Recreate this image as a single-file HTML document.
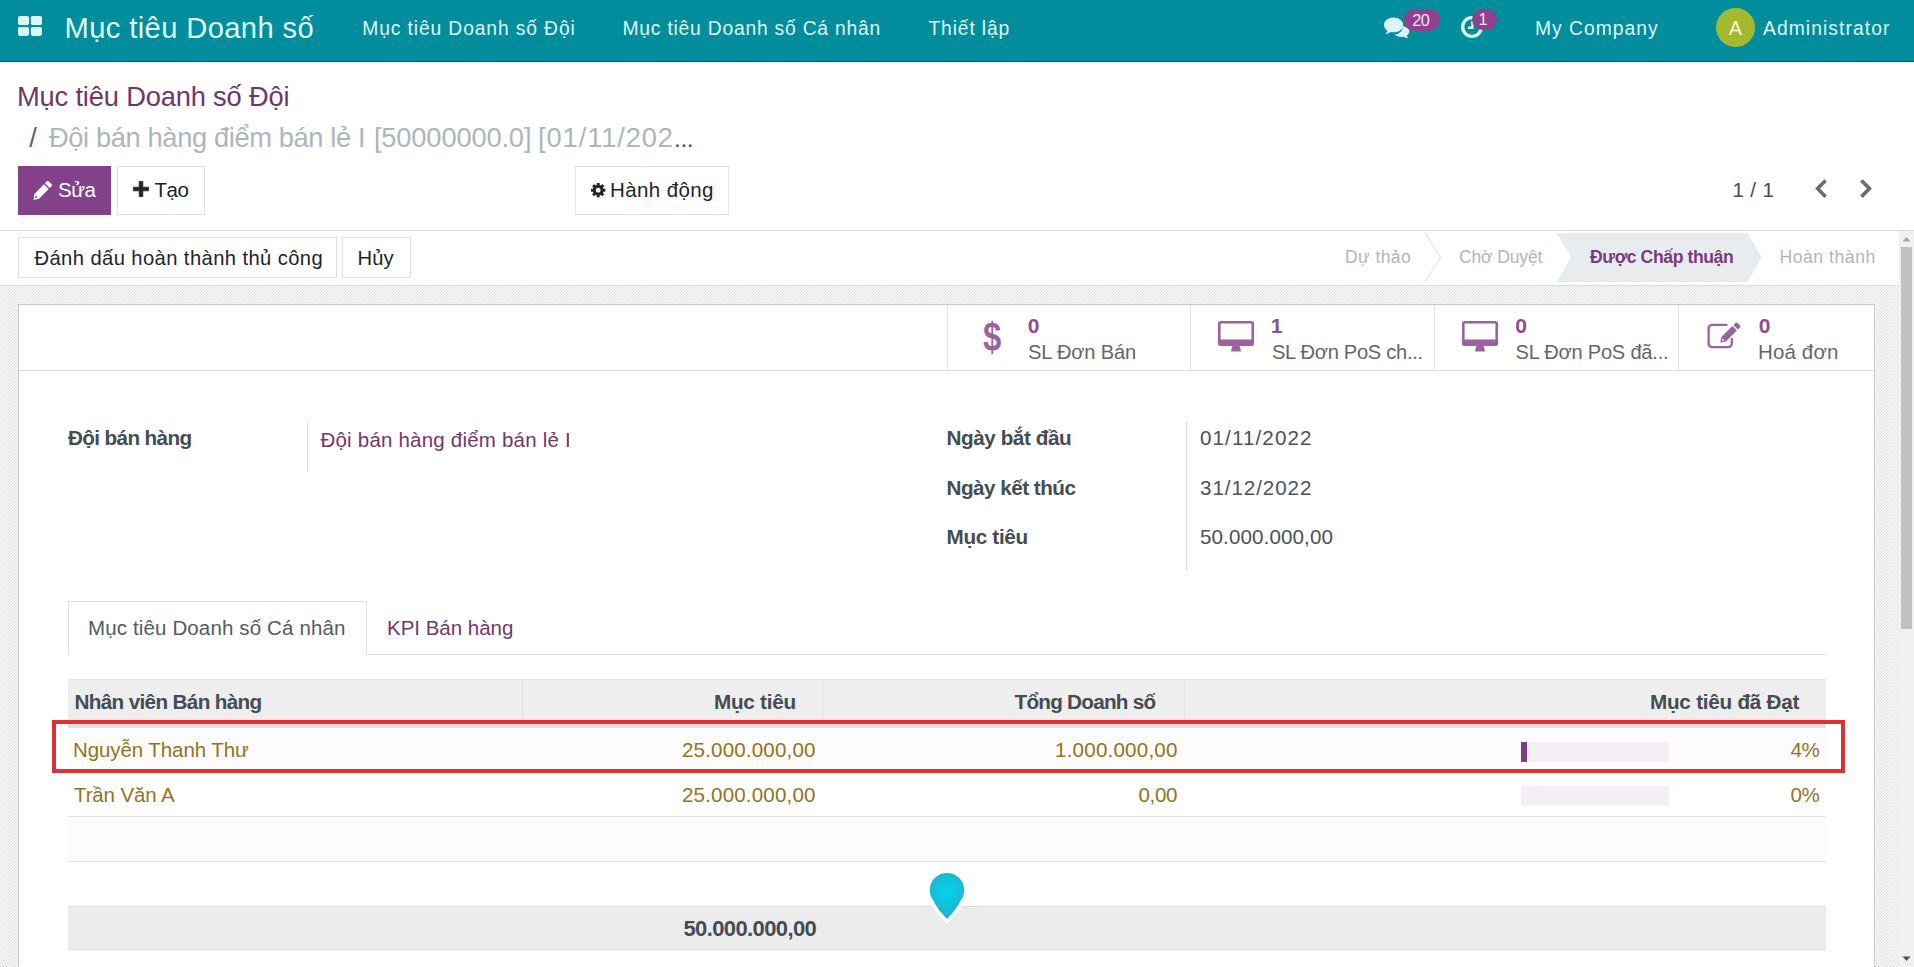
<!DOCTYPE html>
<html lang="vi">
<head>
<meta charset="utf-8">
<title>Mục tiêu Doanh số Đội</title>
<style>
html,body{margin:0;padding:0;}
body{width:1914px;height:967px;overflow:hidden;position:relative;background:#fff;font-family:"Liberation Sans",sans-serif;}
.t{position:absolute;white-space:nowrap;line-height:1;font-family:"Liberation Sans",sans-serif;}
.a{position:absolute;box-sizing:border-box;}
#nav{left:0;top:0;width:1914px;height:62px;background:#028d9d;border-bottom:1px solid #045a6b;}
#cp{left:0;top:62px;width:1914px;height:169px;background:#fff;border-bottom:1px solid #dcdcdc;}
#sb{left:0;top:231px;width:1899px;height:55px;background:#fff;border-bottom:1px solid #dadada;}
#bg{left:0;top:286px;width:1899px;height:681px;background-color:#efefef;}
#sheet{left:18px;top:304px;width:1857px;height:700px;background:#fff;border:1px solid #c9c9d1;}
.btn{background:#fff;border:1px solid #e0e1e3;}
.vl{width:1px;background:#dddddd;}
.hl{height:1px;background:#e0e2e4;}
svg{position:absolute;overflow:visible;}
</style>
</head>
<body>
<!-- NAVBAR -->
<div class="a" id="nav"></div>
<svg style="left:18px;top:16px" width="24" height="20" viewBox="0 0 24 20"><g fill="#dcf6f8"><rect x="0" y="0" width="11" height="9" rx="1.8"/><rect x="12.8" y="0" width="11.2" height="9" rx="1.8"/><rect x="0" y="10.9" width="11" height="9" rx="1.8"/><rect x="12.8" y="10.9" width="11.2" height="9" rx="1.8"/></g></svg>
<!-- comments icon -->
<svg style="left:1384px;top:17px" width="26" height="21" viewBox="0 0 26 21"><g fill="#dcf4f6"><path d="M18.5 9.2 C22.5 9.6 25.4 12 25.4 14.6 C25.4 16.3 24.3 17.8 22.6 18.8 C23 19.8 23.7 20.5 24.4 21 C22.6 21 21 20.5 19.8 19.7 C19 19.9 18.2 20 17.4 20 C14.6 20 12.2 19 10.8 17.5 C15.5 17 19 13.5 18.5 9.2Z"/><path d="M9.6 0.5 C14.9 0.5 19.2 3.8 19.2 7.9 C19.2 12 14.9 15.3 9.6 15.3 C8.6 15.3 7.6 15.2 6.7 14.9 C5.2 16.1 3.3 16.8 1.2 16.9 C2.2 16.1 3.1 15 3.6 13.7 C1.4 12.3 0 10.2 0 7.9 C0 3.8 4.3 0.5 9.6 0.5Z"/></g></svg>
<div class="a" style="left:1403.5px;top:8.8px;width:36px;height:22.1px;border-radius:11px;background:#913f90;"></div>
<!-- clock icon -->
<svg style="left:1460px;top:15.2px" width="24" height="24" viewBox="0 0 24 24"><circle cx="12" cy="12" r="9.35" fill="none" stroke="#dcf6f8" stroke-width="3.4"/><path d="M12.4 6.2 V12.7 H7.8" fill="none" stroke="#dcf6f8" stroke-width="2.4"/></svg>
<div class="a" style="left:1471.8px;top:8.5px;width:24.8px;height:21.6px;border-radius:11px;background:#913f90;"></div>
<!-- avatar -->
<div class="a" style="left:1716px;top:8px;width:39px;height:39px;border-radius:50%;background:#a5b92f;"></div>

<!-- CONTROL PANEL -->
<div class="a" id="cp"></div>
<div class="a" style="left:18px;top:166px;width:93px;height:49px;background:#83418a;"></div>
<svg style="left:33px;top:181px" width="19" height="19" viewBox="0 0 19 19"><path fill="#fff" d="M13.6 0.6 a1.6 1.6 0 0 1 2.3 0 l2.5 2.5 a1.6 1.6 0 0 1 0 2.3 l-1.7 1.7 -4.8 -4.8z M10.9 3.3 l4.8 4.8 -9.6 9.6 -5.6 1.2 0.9 -5.9z M2.6 14.2 l-0.5 2.7 2.6 -0.6z" fill-rule="evenodd"/></svg>
<div class="a btn" style="left:117px;top:166px;width:88px;height:49px;"></div>
<svg style="left:132.8px;top:180.6px" width="16" height="16" viewBox="0 0 16 16"><path fill="#212529" stroke="#212529" stroke-width="0.8" stroke-linejoin="round" d="M6.2 0.4 h3.6 v5.8 h5.8 v3.6 h-5.8 v5.800 h-3.600 v-5.800 h-5.800 v-3.600 h5.800z"/></svg>
<div class="a btn" style="left:575px;top:166px;width:154px;height:49px;"></div>
<svg style="left:591px;top:183px" width="14.4" height="14.4" viewBox="-7.5 -7.5 15 15"><g fill="#212529"><path fill-rule="evenodd" d="M0 -5.6 a5.6 5.6 0 1 0 0.001 0z M0 -2.5 a2.5 2.5 0 1 1 -0.001 0z"/><g id="teeth"><rect x="-1.5" y="-7.5" width="3" height="3"/><rect x="-1.5" y="4.5" width="3" height="3"/><rect x="-7.5" y="-1.5" width="3" height="3"/><rect x="4.5" y="-1.5" width="3" height="3"/></g><g transform="rotate(45)"><rect x="-1.5" y="-7.5" width="3" height="3"/><rect x="-1.5" y="4.5" width="3" height="3"/><rect x="-7.5" y="-1.5" width="3" height="3"/><rect x="4.5" y="-1.5" width="3" height="3"/></g></g></svg>
<!-- pager chevrons -->
<svg style="left:1814px;top:179px" width="14" height="20" viewBox="0 0 14 20"><path d="M11.6 1.5 L3.6 9.6 L11.6 17.7" fill="none" stroke="#6b6b6b" stroke-width="3.6"/></svg>
<svg style="left:1859px;top:179px" width="14" height="20" viewBox="0 0 14 20"><path d="M2.4 1.5 L10.4 9.6 L2.4 17.7" fill="none" stroke="#6b6b6b" stroke-width="3.6"/></svg>

<!-- STATUS BAR -->
<div class="a" id="sb"></div>
<div class="a btn" style="left:18px;top:237px;width:319px;height:41px;"></div>
<div class="a btn" style="left:342px;top:237px;width:69px;height:41px;"></div>
<svg style="left:0;top:0" width="1899" height="300" viewBox="0 0 1899 300"><path d="M1556.5 233 H1747.5 L1762 257.5 L1747.5 282 H1556.5 L1571 257.5Z" fill="#e9ecef"/><path d="M1425 233 L1440.5 257.5 L1425 282" fill="none" stroke="#e4e4e4" stroke-width="1.2"/></svg>

<!-- CONTENT -->
<div class="a" id="bg"></div>
<svg style="left:0;top:286px" width="1899" height="681"><defs><pattern id="chk" width="3" height="3" patternUnits="userSpaceOnUse"><rect width="3" height="3" fill="#e3e3e3"/><circle cx="0.75" cy="0.75" r="0.85" fill="#fff"/><circle cx="2.25" cy="2.25" r="0.85" fill="#fff"/></pattern></defs><rect width="1899" height="681" fill="url(#chk)"/></svg>
<div class="a" id="sheet"></div>
<div class="a hl" style="left:19px;top:370px;width:1855px;background:#dcdcdc;"></div>
<div class="a vl" style="left:947px;top:305px;height:65px;background:#e3e3e3;"></div>
<div class="a vl" style="left:1190px;top:305px;height:65px;background:#e3e3e3;"></div>
<div class="a vl" style="left:1434px;top:305px;height:65px;background:#e3e3e3;"></div>
<div class="a vl" style="left:1678px;top:305px;height:65px;background:#e3e3e3;"></div>
<!-- stat icons -->
<div class="t" style="left:982.5px;top:316.5px;font-size:41px;font-weight:bold;color:#9a63a0;transform:scaleX(0.8);transform-origin:0 0;">$</div>
<svg style="left:1218px;top:320.5px" width="36" height="31" viewBox="0 0 36 31"><path fill="#9a63a0" fill-rule="evenodd" d="M2.6 0 H33.4 A2.6 2.6 0 0 1 36 2.6 V22.4 A2.6 2.6 0 0 1 33.4 25 H21.6 L22.9 29.4 A0.9 0.9 0 0 1 22 30.600 H14 A0.900 0.900 0 0 1 13.100 29.400 L14.400 25 H2.6 A2.6 2.6 0 0 1 0 22.400 V2.6 A2.6 2.6 0 0 1 2.6 0Z M2.600 2.600 V18.600 H33.400 V2.600Z"/></svg>
<svg style="left:1461.500px;top:320.5px" width="36" height="31" viewBox="0 0 36 31"><path fill="#9a63a0" fill-rule="evenodd" d="M2.6 0 H33.4 A2.6 2.6 0 0 1 36 2.6 V22.4 A2.6 2.6 0 0 1 33.4 25 H21.6 L22.9 29.4 A0.9 0.9 0 0 1 22 30.600 H14 A0.900 0.900 0 0 1 13.100 29.400 L14.400 25 H2.6 A2.6 2.6 0 0 1 0 22.400 V2.6 A2.6 2.6 0 0 1 2.6 0Z M2.600 2.600 V18.600 H33.400 V2.600Z"/></svg>
<svg style="left:1706.5px;top:322px" width="35" height="28" viewBox="0 0 35 28"><path d="M24.8 17.2 V21.6 A3.6 3.6 0 0 1 21.2 25.2 H5.2 A3.6 3.6 0 0 1 1.6 21.6 V6.4 A3.6 3.6 0 0 1 5.2 2.800 H19.6" fill="none" stroke="#9a63a0" stroke-width="2.3" stroke-linecap="round"/><path fill="#9a63a0" d="M28.3 1 a1.600 1.600 0 0 1 2.300 0 l2.300 2.300 a1.600 1.600 0 0 1 0 2.300 l-1.900 1.900 -4.600 -4.600z M25.300 4 l4.600 4.600 -10.900 10.900 -5.700 1.100 1.100 -5.700z M15.600 16.600 l-0.500 2.300 2.300 -0.500z" fill-rule="evenodd"/></svg>

<!-- form separators -->
<div class="a vl" style="left:307px;top:422px;height:50px;"></div>
<div class="a vl" style="left:1186px;top:422px;height:148px;"></div>

<!-- tabs -->
<div class="a hl" style="left:68px;top:654px;width:1758px;"></div>
<div class="a" style="left:68px;top:601px;width:299px;height:54px;background:#fff;border:1px solid #dfe1e3;border-bottom:none;"></div>

<!-- table -->
<div class="a" style="left:68px;top:679px;width:1758px;height:45px;background:#eeeeee;border-top:1px solid #e4e4e4;"></div>
<div class="a" style="left:68px;top:724px;width:1758px;height:4px;background:#dfe1e3;"></div>
<div class="a vl" style="left:522px;top:680px;height:44px;background:#e2e2e2;"></div>
<div class="a vl" style="left:822px;top:680px;height:44px;background:#e2e2e2;"></div>
<div class="a vl" style="left:1184px;top:680px;height:44px;background:#e2e2e2;"></div>
<div class="a" style="left:68px;top:728px;width:1758px;height:44px;background:#fcfcfc;"></div>
<div class="a hl" style="left:68px;top:816px;width:1758px;"></div>
<div class="a" style="left:68px;top:817px;width:1758px;height:44px;background:#fcfcfc;"></div>
<div class="a hl" style="left:68px;top:861px;width:1758px;"></div>
<div class="a" style="left:68px;top:906px;width:1758px;height:45px;background:#ececec;border-top:1px solid #dedede;"></div>
<!-- progress -->
<div class="a" style="left:1521px;top:741.500px;width:148px;height:20px;background:#f5eef6;"></div>
<div class="a" style="left:1521px;top:741.500px;width:6px;height:20px;background:#7c3d85;"></div>
<div class="a" style="left:1521px;top:786px;width:148px;height:20px;background:#f5eef6;"></div>
<!-- red frame -->
<div class="a" style="left:52px;top:720px;width:1793px;height:52.500px;border:4px solid #e03035;"></div>
<!-- marker -->
<svg style="left:924.7px;top:869.6px" width="44" height="56" viewBox="0 0 44 56"><defs><radialGradient id="rg" gradientUnits="userSpaceOnUse" cx="22" cy="22" r="24"><stop offset="0" stop-color="#00d4ec"/><stop offset="1" stop-color="#22b2c8"/></radialGradient></defs><path d="M22 49 Q12.8 39.8 7.91 30.07 A17.2 17.2 0 1 1 36.09 30.07 Q31.2 39.8 22 49Z" fill="url(#rg)" stroke="#fff" stroke-width="6.5" stroke-linejoin="miter" paint-order="stroke"/></svg>

<!-- scrollbar -->
<div class="a" style="left:1899px;top:231px;width:15px;height:736px;background:#f1f1f1;"></div>
<div class="a" style="left:1901px;top:246.5px;width:11px;height:382px;background:#c1c1c1;"></div>
<svg style="left:1899px;top:231px" width="15" height="736" viewBox="0 0 15 736"><path d="M3.500 10.500 L7.500 6 L11.500 10.500Z" fill="#a3a3a3"/><path d="M3.500 725.500 L7.500 730 L11.500 725.500Z" fill="#505050"/></svg>

<div class="t" id="t0" style="left:64.50px;top:13.98px;font-size:29.2px;color:#dcf9fb;letter-spacing:0.366px;">Mục tiêu Doanh số</div>
<div class="t" id="t1" style="left:362.30px;top:19.39px;font-size:19.3px;color:#dcf9fb;letter-spacing:0.871px;">Mục tiêu Doanh số Đội</div>
<div class="t" id="t2" style="left:622.50px;top:19.39px;font-size:19.3px;color:#dcf9fb;letter-spacing:0.779px;">Mục tiêu Doanh số Cá nhân</div>
<div class="t" id="t3" style="left:928.50px;top:19.39px;font-size:19.3px;color:#dcf9fb;letter-spacing:0.846px;">Thiết lập</div>
<div class="t" id="t4" style="left:1535.00px;top:19.39px;font-size:19.3px;color:#dcf9fb;letter-spacing:1.005px;">My Company</div>
<div class="t" id="t5" style="left:1763.00px;top:19.39px;font-size:19.3px;color:#dcf9fb;letter-spacing:1.069px;">Administrator</div>
<div class="t" id="t6" style="left:1728.99px;top:19.39px;font-size:19.3px;color:#f7fbd0;">A</div>
<div class="t" id="t7" style="left:1412.24px;top:12.23px;font-size:16.2px;color:#f6e4f6;letter-spacing:-0.400px;">20</div>
<div class="t" id="t8" style="left:1478.59px;top:10.53px;font-size:16.2px;color:#f6e4f6;">1</div>
<div class="t" id="t9" style="left:17.00px;top:82.89px;font-size:27.3px;color:#6e376c;letter-spacing:-0.180px;">Mục tiêu Doanh số Đội</div>
<div class="t" id="t10" style="left:29.25px;top:123.89px;font-size:27.3px;color:#5c636a;">/</div>
<div class="t" id="t11" style="left:49.00px;top:123.89px;font-size:27.3px;color:#adb5bd;letter-spacing:-0.388px;">Đội bán hàng điểm bán lẻ I</div>
<div class="t" id="t12" style="left:373.90px;top:123.89px;font-size:27.3px;color:#adb5bd;letter-spacing:-0.164px;">[50000000.0]</div>
<div class="t" id="t13" style="left:538.10px;top:123.89px;font-size:27.3px;color:#adb5bd;letter-spacing:0.876px;">[01/11/202</div>
<div class="t" id="t14" style="left:674.00px;top:127.27px;font-size:24.5px;color:#4a4f55;letter-spacing:-0.400px;">...</div>
<div class="t" id="t15" style="left:58.00px;top:179.67px;font-size:20.5px;color:#ffffff;letter-spacing:-0.400px;">Sửa</div>
<div class="t" id="t16" style="left:154.50px;top:179.67px;font-size:20.5px;color:#212529;letter-spacing:-0.400px;">Tạo</div>
<div class="t" id="t17" style="left:610.00px;top:179.67px;font-size:20.5px;color:#212529;letter-spacing:0.386px;">Hành động</div>
<div class="t" id="t18" style="left:1732.50px;top:180.49px;font-size:20.6px;color:#4c4c4c;letter-spacing:0.344px;">1 / 1</div>
<div class="t" id="t19" style="left:34.50px;top:247.63px;font-size:20.2px;color:#212529;letter-spacing:0.406px;">Đánh dấu hoàn thành thủ công</div>
<div class="t" id="t20" style="left:357.50px;top:247.63px;font-size:20.2px;color:#212529;letter-spacing:0.094px;">Hủy</div>
<div class="t" id="t21" style="left:1345.00px;top:249.04px;font-size:17.6px;color:#b1b6bd;letter-spacing:0.360px;">Dự thảo</div>
<div class="t" id="t22" style="left:1459.00px;top:249.04px;font-size:17.6px;color:#b1b6bd;letter-spacing:-0.188px;">Chờ Duyệt</div>
<div class="t" id="t23" style="left:1590.00px;top:249.04px;font-size:17.6px;color:#7a3a80;font-weight:bold;letter-spacing:-0.403px;">Được Chấp thuận</div>
<div class="t" id="t24" style="left:1779.50px;top:249.04px;font-size:17.6px;color:#b1b6bd;letter-spacing:0.533px;">Hoàn thành</div>
<div class="t" id="t25" style="left:1027.75px;top:315.45px;font-size:21.0px;color:#8b4f92;font-weight:bold;">0</div>
<div class="t" id="t26" style="left:1028.00px;top:342.02px;font-size:20.1px;color:#666666;letter-spacing:-0.161px;">SL Đơn Bán</div>
<div class="t" id="t27" style="left:1270.75px;top:315.45px;font-size:21.0px;color:#8b4f92;font-weight:bold;">1</div>
<div class="t" id="t28" style="left:1272.00px;top:342.02px;font-size:20.1px;color:#666666;letter-spacing:-0.288px;">SL Đơn PoS ch...</div>
<div class="t" id="t29" style="left:1515.25px;top:315.45px;font-size:21.0px;color:#8b4f92;font-weight:bold;">0</div>
<div class="t" id="t30" style="left:1515.50px;top:342.02px;font-size:20.1px;color:#666666;letter-spacing:-0.230px;">SL Đơn PoS đã...</div>
<div class="t" id="t31" style="left:1758.75px;top:315.45px;font-size:21.0px;color:#8b4f92;font-weight:bold;">0</div>
<div class="t" id="t32" style="left:1758.00px;top:341.68px;font-size:20.5px;color:#666666;letter-spacing:0.140px;">Hoá đơn</div>
<div class="t" id="t33" style="left:68.00px;top:428.21px;font-size:20.7px;color:#444c54;font-weight:bold;letter-spacing:-0.625px;">Đội bán hàng</div>
<div class="t" id="t34" style="left:320.50px;top:429.57px;font-size:20.5px;color:#70386f;letter-spacing:0.207px;">Đội bán hàng điểm bán lẻ I</div>
<div class="t" id="t35" style="left:946.50px;top:427.50px;font-size:20.7px;color:#444c54;font-weight:bold;letter-spacing:-0.434px;">Ngày bắt đầu</div>
<div class="t" id="t36" style="left:946.50px;top:478.00px;font-size:20.7px;color:#444c54;font-weight:bold;letter-spacing:-0.513px;">Ngày kết thúc</div>
<div class="t" id="t37" style="left:946.50px;top:527.30px;font-size:20.7px;color:#444c54;font-weight:bold;letter-spacing:-0.324px;">Mục tiêu</div>
<div class="t" id="t38" style="left:1200.00px;top:427.59px;font-size:20.6px;color:#4c5258;letter-spacing:1.101px;">01/11/2022</div>
<div class="t" id="t39" style="left:1200.00px;top:478.09px;font-size:20.6px;color:#4c5258;letter-spacing:0.931px;">31/12/2022</div>
<div class="t" id="t40" style="left:1200.00px;top:527.39px;font-size:20.6px;color:#4c5258;letter-spacing:0.104px;">50.000.000,00</div>
<div class="t" id="t41" style="left:88.00px;top:617.58px;font-size:20.5px;color:#555b61;letter-spacing:0.136px;">Mục tiêu Doanh số Cá nhân</div>
<div class="t" id="t42" style="left:387.00px;top:617.58px;font-size:20.5px;color:#70386f;letter-spacing:-0.010px;">KPI Bán hàng</div>
<div class="t" id="t43" style="left:74.50px;top:692.20px;font-size:20.7px;color:#444c54;font-weight:bold;letter-spacing:-0.660px;">Nhân viên Bán hàng</div>
<div class="t" id="t44" style="left:714.00px;top:692.20px;font-size:20.7px;color:#444c54;font-weight:bold;letter-spacing:-0.253px;">Mục tiêu</div>
<div class="t" id="t45" style="left:1014.59px;top:692.20px;font-size:20.7px;color:#444c54;font-weight:bold;letter-spacing:-0.750px;">Tổng Doanh số</div>
<div class="t" id="t46" style="left:1650.00px;top:692.20px;font-size:20.7px;color:#444c54;font-weight:bold;letter-spacing:-0.249px;">Mục tiêu đã Đạt</div>
<div class="t" id="t47" style="left:73.00px;top:739.58px;font-size:20.5px;color:#94741f;letter-spacing:-0.091px;">Nguyễn Thanh Thư</div>
<div class="t" id="t48" style="left:682.00px;top:740.49px;font-size:20.6px;color:#94741f;letter-spacing:0.146px;">25.000.000,00</div>
<div class="t" id="t49" style="left:1055.00px;top:740.49px;font-size:20.6px;color:#94741f;letter-spacing:0.200px;">1.000.000,00</div>
<div class="t" id="t50" style="left:1790.45px;top:740.49px;font-size:20.6px;color:#94741f;letter-spacing:-0.400px;">4%</div>
<div class="t" id="t51" style="left:74.00px;top:784.78px;font-size:20.5px;color:#94741f;letter-spacing:-0.127px;">Trần Văn A</div>
<div class="t" id="t52" style="left:682.00px;top:784.69px;font-size:20.6px;color:#94741f;letter-spacing:0.146px;">25.000.000,00</div>
<div class="t" id="t53" style="left:1138.50px;top:784.69px;font-size:20.6px;color:#94741f;letter-spacing:-0.380px;">0,00</div>
<div class="t" id="t54" style="left:1790.45px;top:784.69px;font-size:20.6px;color:#94741f;letter-spacing:-0.400px;">0%</div>
<div class="t" id="t55" style="left:683.50px;top:918.40px;font-size:22.0px;color:#444c54;font-weight:bold;letter-spacing:-0.622px;">50.000.000,00</div>
</body>
</html>
